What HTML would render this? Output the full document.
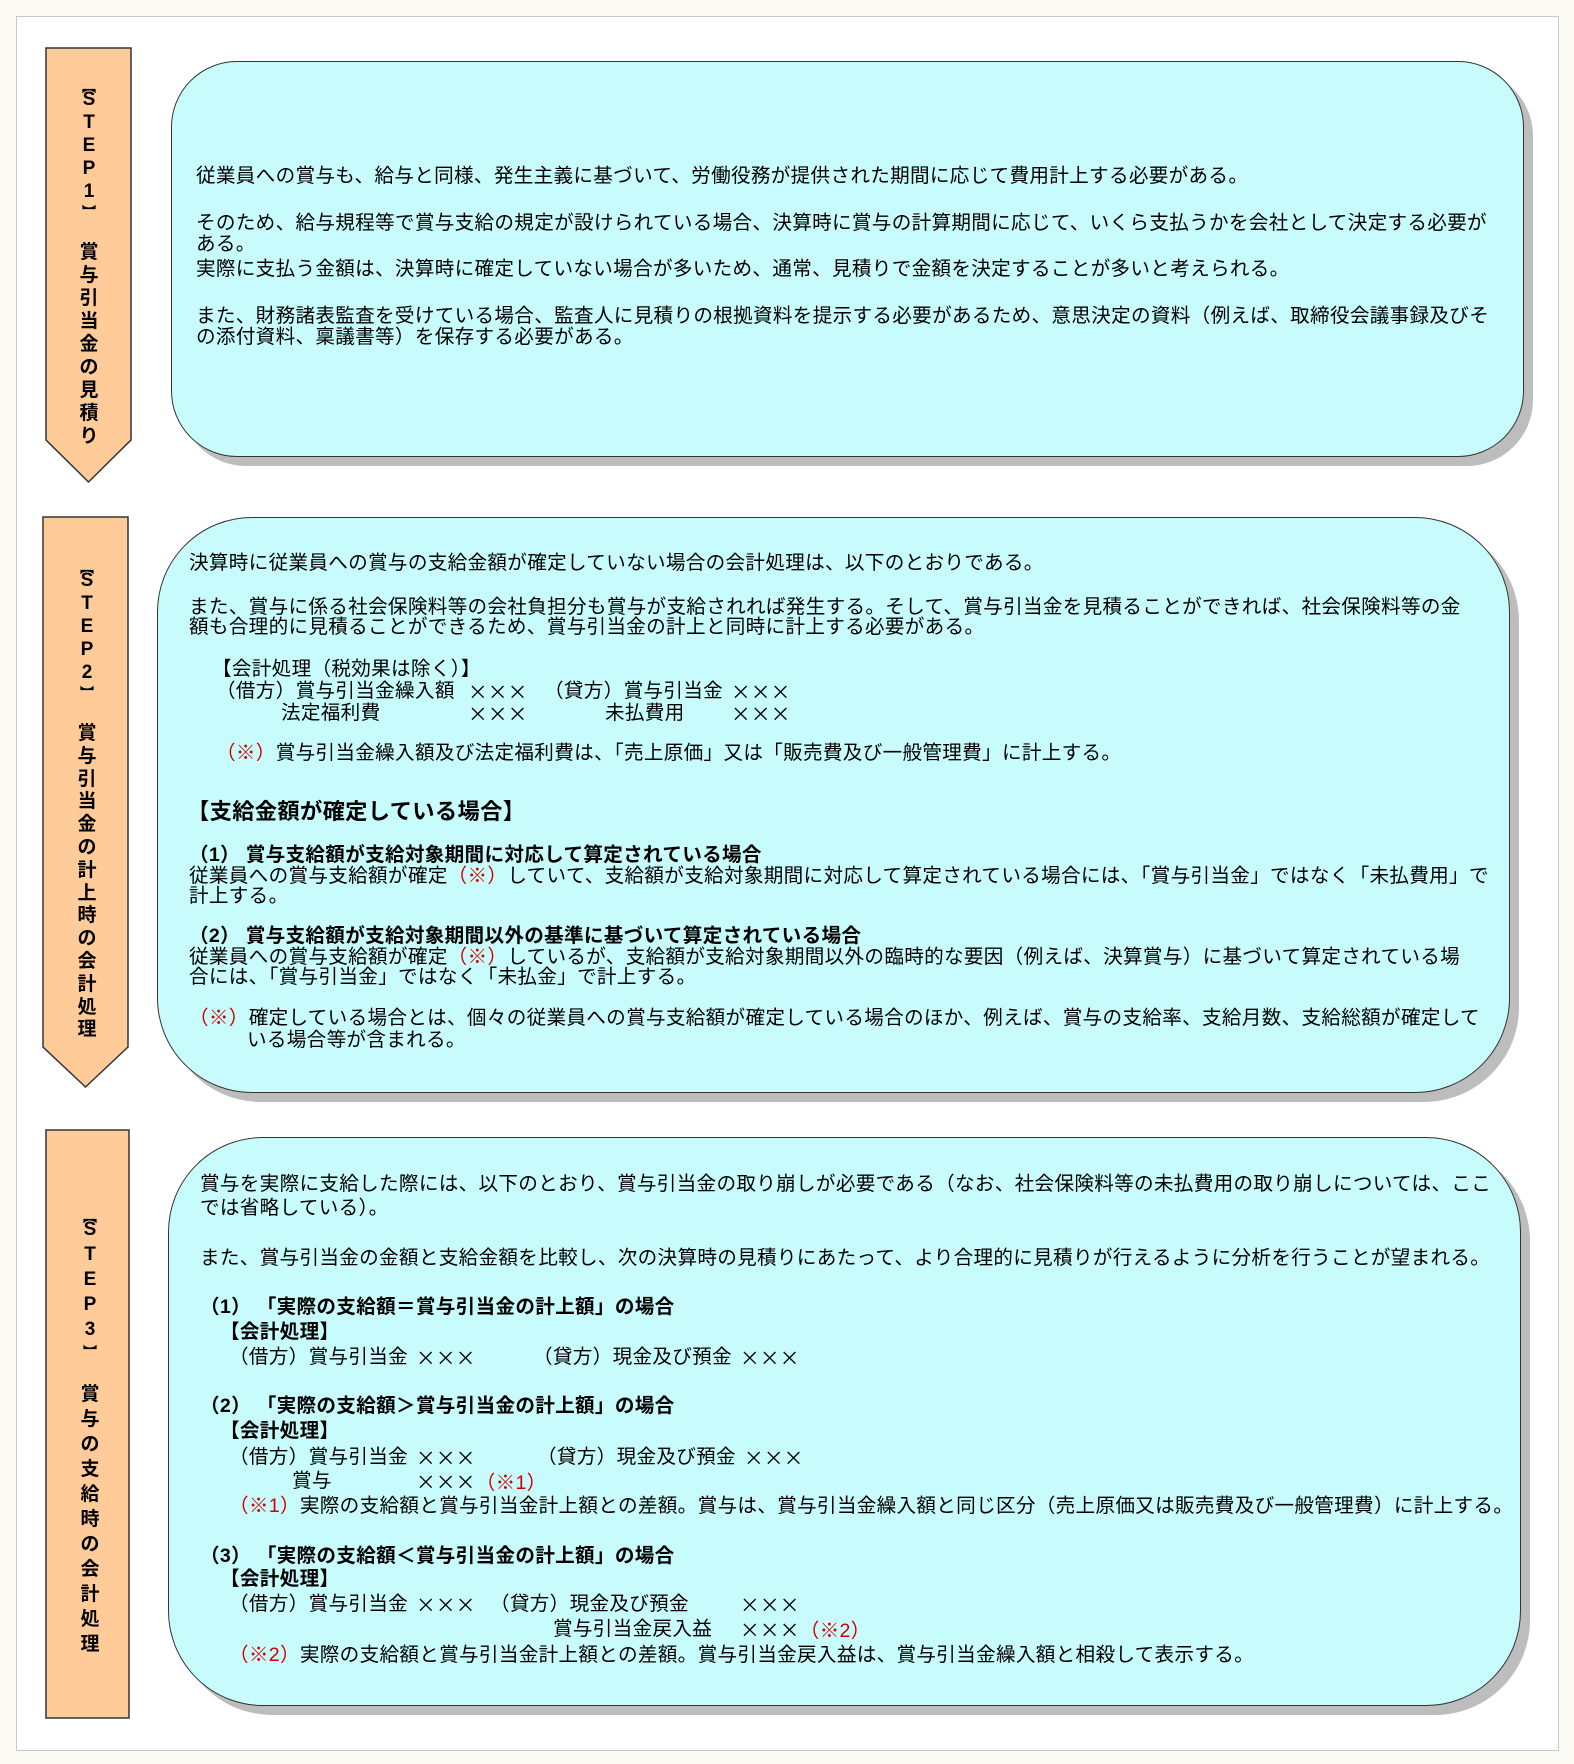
<!DOCTYPE html>
<html><head><meta charset="utf-8">
<style>
html,body{margin:0;padding:0}
body{width:1574px;height:1764px;background:#fbfaf5;position:relative;overflow:hidden;font-family:"Liberation Sans","Noto Sans CJK JP",sans-serif;color:#000}
.panel{position:absolute;left:16px;top:16px;width:1543px;height:1735px;background:#fff;border:1px solid #c8c8c8;box-sizing:border-box}
.box{position:absolute;background:#c8fcfc;border:1.5px solid #333;box-sizing:border-box;box-shadow:9px 9px 0 #bdbdbd}
.l{position:absolute;white-space:nowrap;font-size:19.6px;line-height:22px;letter-spacing:0.3px}
.x{font-family:"Noto Sans CJK JP",sans-serif}
.b{font-weight:bold}
.r{color:#d00000}
.vl{position:absolute;display:flex;flex-direction:column;align-items:center;font-size:19px;font-weight:bold;width:30px}
.vl span{display:block;text-align:center;line-height:1}
</style></head><body>
<div class="panel"></div>

<svg style="position:absolute;left:0;top:0" width="1574" height="1764">
<polygon points="46,48 131,48 131,440 88.5,482 46,440" fill="#ffcc99" stroke="#333" stroke-width="1.5"/>
<polygon points="43,517 128,517 128,1047 85.5,1087 43,1047" fill="#ffcc99" stroke="#333" stroke-width="1.5"/>
<rect x="46" y="1130" width="83" height="588" fill="#ffcc99" stroke="#333" stroke-width="1.5"/>
</svg>

<div class="vl" style="left:74px;top:80px">
<span style="height:10px;font-size:14px">︻</span>
<span style="height:23px">S</span><span style="height:23px">T</span><span style="height:23px">E</span><span style="height:23px">P</span><span style="height:23px">1</span>
<span style="height:14px;font-size:14px">︼</span><span style="height:24px"></span>
<span style="height:23px">賞</span><span style="height:23px">与</span><span style="height:23px">引</span><span style="height:23px">当</span><span style="height:23px">金</span><span style="height:23px">の</span><span style="height:23px">見</span><span style="height:23px">積</span><span style="height:23px">り</span>
</div>
<div class="vl" style="left:72px;top:561px">
<span style="height:10px;font-size:14px">︻</span>
<span style="height:23px">S</span><span style="height:23px">T</span><span style="height:23px">E</span><span style="height:23px">P</span><span style="height:23px">2</span>
<span style="height:14px;font-size:14px">︼</span><span style="height:24px"></span>
<span style="height:22.8px">賞</span><span style="height:22.8px">与</span><span style="height:22.8px">引</span><span style="height:22.8px">当</span><span style="height:22.8px">金</span><span style="height:22.8px">の</span><span style="height:22.8px">計</span><span style="height:22.8px">上</span><span style="height:22.8px">時</span><span style="height:22.8px">の</span><span style="height:22.8px">会</span><span style="height:22.8px">計</span><span style="height:22.8px">処</span><span style="height:22.8px">理</span>
</div>
<div class="vl" style="left:75px;top:1210px">
<span style="height:10px;font-size:14px">︻</span>
<span style="height:25px">S</span><span style="height:25px">T</span><span style="height:25px">E</span><span style="height:25px">P</span><span style="height:25px">3</span>
<span style="height:14px;font-size:14px">︼</span><span style="height:26px"></span>
<span style="height:25px">賞</span><span style="height:25px">与</span><span style="height:25px">の</span><span style="height:25px">支</span><span style="height:25px">給</span><span style="height:25px">時</span><span style="height:25px">の</span><span style="height:25px">会</span><span style="height:25px">計</span><span style="height:25px">処</span><span style="height:25px">理</span>
</div>

<div class="box" style="left:171px;top:61px;width:1353px;height:396px;border-radius:66px"></div>
<div class="l" style="left:196px;top:165px">従業員への賞与も、給与と同様、発生主義に基づいて、労働役務が提供された期間に応じて費用計上する必要がある。</div>
<div class="l" style="left:196px;top:212px">そのため、給与規程等で賞与支給の規定が設けられている場合、決算時に賞与の計算期間に応じて、いくら支払うかを会社として決定する必要が</div>
<div class="l" style="left:196px;top:233px">ある。</div>
<div class="l" style="left:196px;top:258px">実際に支払う金額は、決算時に確定していない場合が多いため、通常、見積りで金額を決定することが多いと考えられる。</div>
<div class="l" style="left:196px;top:305px">また、財務諸表監査を受けている場合、監査人に見積りの根拠資料を提示する必要があるため、意思決定の資料（例えば、取締役会議事録及びそ</div>
<div class="l" style="left:196px;top:326px">の添付資料、稟議書等）を保存する必要がある。</div>

<div class="box" style="left:157px;top:517px;width:1353px;height:576px;border-radius:95px"></div>
<div class="l" style="left:189px;top:552px">決算時に従業員への賞与の支給金額が確定していない場合の会計処理は、以下のとおりである。</div>
<div class="l" style="left:189px;top:596px">また、賞与に係る社会保険料等の会社負担分も賞与が支給されれば発生する。そして、賞与引当金を見積ることができれば、社会保険料等の金</div>
<div class="l" style="left:189px;top:616px">額も合理的に見積ることができるため、賞与引当金の計上と同時に計上する必要がある。</div>
<div class="l" style="left:212px;top:658px">【会計処理（税効果は除く）】</div>
<div class="l" style="left:216px;top:680px">（借方）賞与引当金繰入額</div>
<div class="l x" style="left:468px;top:680px">×××</div>
<div class="l" style="left:544px;top:680px">（貸方）賞与引当金</div>
<div class="l x" style="left:731px;top:680px">×××</div>
<div class="l" style="left:281px;top:702px">法定福利費</div>
<div class="l x" style="left:468px;top:702px">×××</div>
<div class="l" style="left:605px;top:702px">未払費用</div>
<div class="l x" style="left:731px;top:702px">×××</div>
<div class="l" style="left:216px;top:742px"><span class="r">（※）</span>賞与引当金繰入額及び法定福利費は、「売上原価」又は「販売費及び一般管理費」に計上する。</div>
<div class="l b" style="left:187px;top:799px;font-size:22.3px;line-height:26px;letter-spacing:0.3px">【支給金額が確定している場合】</div>
<div class="l b" style="left:189px;top:844px">（1） 賞与支給額が支給対象期間に対応して算定されている場合</div>
<div class="l" style="left:189px;top:865px">従業員への賞与支給額が確定<span class="r">（※）</span>していて、支給額が支給対象期間に対応して算定されている場合には、「賞与引当金」ではなく「未払費用」で</div>
<div class="l" style="left:189px;top:885px">計上する。</div>
<div class="l b" style="left:189px;top:925px">（2） 賞与支給額が支給対象期間以外の基準に基づいて算定されている場合</div>
<div class="l" style="left:189px;top:946px">従業員への賞与支給額が確定<span class="r">（※）</span>しているが、支給額が支給対象期間以外の臨時的な要因（例えば、決算賞与）に基づいて算定されている場</div>
<div class="l" style="left:189px;top:966px">合には、「賞与引当金」ではなく「未払金」で計上する。</div>
<div class="l" style="left:189px;top:1007px"><span class="r">（※）</span>確定している場合とは、個々の従業員への賞与支給額が確定している場合のほか、例えば、賞与の支給率、支給月数、支給総額が確定して</div>
<div class="l" style="left:247px;top:1029px">いる場合等が含まれる。</div>

<div class="box" style="left:168px;top:1137px;width:1353px;height:569px;border-radius:95px"></div>
<div class="l" style="left:200px;top:1173px">賞与を実際に支給した際には、以下のとおり、賞与引当金の取り崩しが必要である（なお、社会保険料等の未払費用の取り崩しについては、ここ</div>
<div class="l" style="left:200px;top:1197px">では省略している）。</div>
<div class="l" style="left:200px;top:1247px">また、賞与引当金の金額と支給金額を比較し、次の決算時の見積りにあたって、より合理的に見積りが行えるように分析を行うことが望まれる。</div>
<div class="l b" style="left:200px;top:1296px">（1） 「実際の支給額＝賞与引当金の計上額」の場合</div>
<div class="l b" style="left:220px;top:1321px">【会計処理】</div>
<div class="l" style="left:229px;top:1346px">（借方）賞与引当金</div>
<div class="l x" style="left:416px;top:1346px">×××</div>
<div class="l" style="left:533px;top:1346px">（貸方）現金及び預金</div>
<div class="l x" style="left:740px;top:1346px">×××</div>
<div class="l b" style="left:200px;top:1395px">（2） 「実際の支給額＞賞与引当金の計上額」の場合</div>
<div class="l b" style="left:220px;top:1420px">【会計処理】</div>
<div class="l" style="left:229px;top:1446px">（借方）賞与引当金</div>
<div class="l x" style="left:416px;top:1446px">×××</div>
<div class="l" style="left:537px;top:1446px">（貸方）現金及び預金</div>
<div class="l x" style="left:744px;top:1446px">×××</div>
<div class="l" style="left:292px;top:1470px">賞与</div>
<div class="l" style="left:416px;top:1470px"><span class="x">×××</span><span class="r">（※1）</span></div>
<div class="l" style="left:229px;top:1495px"><span class="r">（※1）</span>実際の支給額と賞与引当金計上額との差額。賞与は、賞与引当金繰入額と同じ区分（売上原価又は販売費及び一般管理費）に計上する。</div>
<div class="l b" style="left:200px;top:1545px">（3） 「実際の支給額＜賞与引当金の計上額」の場合</div>
<div class="l b" style="left:220px;top:1568px">【会計処理】</div>
<div class="l" style="left:229px;top:1593px">（借方）賞与引当金</div>
<div class="l x" style="left:416px;top:1593px">×××</div>
<div class="l" style="left:490px;top:1593px">（貸方）現金及び預金</div>
<div class="l x" style="left:740px;top:1593px">×××</div>
<div class="l" style="left:553px;top:1618px">賞与引当金戻入益</div>
<div class="l" style="left:740px;top:1618px"><span class="x">×××</span><span class="r">（※2）</span></div>
<div class="l" style="left:229px;top:1644px"><span class="r">（※2）</span>実際の支給額と賞与引当金計上額との差額。賞与引当金戻入益は、賞与引当金繰入額と相殺して表示する。</div>
</body></html>
